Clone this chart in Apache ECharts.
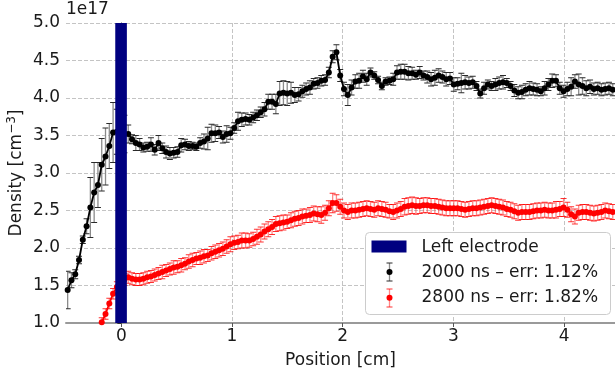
<!DOCTYPE html>
<html>
<head>
<meta charset="utf-8">
<script src="https://cdn.jsdelivr.net/npm/echarts@6/dist/echarts.min.js"></script>
<style>
  html, body { margin: 0; padding: 0; background: #fff; }
  #chart { width: 615px; height: 368px; }
</style>
</head>
<body>
<div id="chart"></div>
<script>
// sampling grid of the probe positions [cm]
const X0 = -0.485;
const DX = 0.0342;

// density at 2000 ns [1e17 cm^-3]
const density2000 = [
  1.44, 1.57, 1.65, 1.84, 2.11, 2.29, 2.54, 2.74, 2.84, 3.11,
  3.22, 3.36, 3.54, 3.55, 3.53, 3.52, 3.52, 3.45, 3.40, 3.38,
  3.34, 3.35, 3.38, 3.31, 3.40, 3.33, 3.28, 3.26, 3.27, 3.28,
  3.37, 3.38, 3.36, 3.36, 3.35, 3.40, 3.42, 3.46, 3.53, 3.53,
  3.54, 3.48, 3.52, 3.53, 3.60, 3.69, 3.71, 3.72, 3.71, 3.74,
  3.77, 3.81, 3.85, 3.95, 3.95, 3.92, 4.06, 4.07, 4.06, 4.07,
  4.04, 4.05, 4.09, 4.12, 4.14, 4.19, 4.20, 4.23, 4.24, 4.34,
  4.55, 4.61, 4.30, 4.12, 4.04, 4.14, 4.22, 4.23, 4.29, 4.25,
  4.34, 4.30, 4.24, 4.16, 4.22, 4.23, 4.25, 4.34, 4.35, 4.35,
  4.33, 4.33, 4.31, 4.34, 4.30, 4.28, 4.25, 4.27, 4.30, 4.28,
  4.25, 4.26, 4.18, 4.19, 4.20, 4.21, 4.20, 4.21, 4.16, 4.06,
  4.13, 4.18, 4.16, 4.18, 4.20, 4.21, 4.20, 4.16, 4.10, 4.07,
  4.08, 4.11, 4.13, 4.12, 4.11, 4.09, 4.13, 4.18, 4.23, 4.23,
  4.13, 4.09, 4.12, 4.15, 4.22, 4.18, 4.16, 4.13, 4.15, 4.12,
  4.13, 4.11, 4.12, 4.13, 4.11
];
const err2000 = [
  0.25, 0.10, 0.06, 0.05, 0.05, 0.10, 0.40, 0.40, 0.30, 0.35,
  0.38, 0.30, 0.40, 0.30, 0.30, 0.25, 0.12, 0.06, 0.10, 0.08,
  0.06, 0.06, 0.09, 0.07, 0.10, 0.07, 0.08, 0.08, 0.07, 0.07,
  0.09, 0.07, 0.06, 0.05, 0.05, 0.07, 0.10, 0.15, 0.12, 0.11,
  0.08, 0.08, 0.11, 0.08, 0.07, 0.12, 0.09, 0.08, 0.07, 0.07,
  0.07, 0.07, 0.09, 0.10, 0.10, 0.13, 0.16, 0.16, 0.16, 0.14,
  0.10, 0.09, 0.08, 0.08, 0.09, 0.07, 0.07, 0.07, 0.07, 0.07,
  0.08, 0.10, 0.08, 0.09, 0.14, 0.10, 0.09, 0.10, 0.08, 0.08,
  0.06, 0.05, 0.05, 0.05, 0.05, 0.05, 0.08, 0.09, 0.10, 0.10,
  0.09, 0.08, 0.06, 0.08, 0.06, 0.08, 0.09, 0.10, 0.09, 0.08,
  0.09, 0.08, 0.09, 0.08, 0.13, 0.09, 0.08, 0.08, 0.06, 0.06,
  0.08, 0.06, 0.06, 0.08, 0.08, 0.09, 0.06, 0.06, 0.08, 0.08,
  0.09, 0.08, 0.09, 0.08, 0.08, 0.06, 0.09, 0.08, 0.09, 0.08,
  0.08, 0.08, 0.09, 0.12, 0.09, 0.14, 0.11, 0.10, 0.09, 0.08,
  0.08, 0.08, 0.08, 0.08, 0.08
];

// density at 2800 ns [1e17 cm^-3]
const density2800 = [
  null, null, null, null, null, null, null, null, 0.90, 1.01,
  1.12, 1.26, 1.39, 1.48, 1.55, 1.58, 1.61, 1.59, 1.58, 1.58,
  1.59, 1.61, 1.62, 1.64, 1.66, 1.68, 1.70, 1.72, 1.74, 1.75,
  1.77, 1.79, 1.82, 1.84, 1.86, 1.87, 1.89, 1.90, 1.93, 1.95,
  1.97, 1.99, 2.02, 2.05, 2.07, 2.08, 2.10, 2.10, 2.10, 2.12,
  2.15, 2.18, 2.22, 2.25, 2.28, 2.32, 2.33, 2.34, 2.35, 2.37,
  2.39, 2.40, 2.42, 2.43, 2.44, 2.46, 2.45, 2.44, 2.47, 2.53,
  2.60, 2.60, 2.55, 2.50, 2.48, 2.50, 2.50, 2.51, 2.52, 2.53,
  2.52, 2.51, 2.53, 2.52, 2.51, 2.49, 2.48, 2.50, 2.52, 2.55,
  2.56, 2.57, 2.56, 2.56, 2.57, 2.57, 2.56, 2.56, 2.55, 2.54,
  2.53, 2.53, 2.53, 2.53, 2.52, 2.51, 2.52, 2.53, 2.53, 2.54,
  2.55, 2.56, 2.57, 2.56, 2.55, 2.54, 2.52, 2.51, 2.49, 2.47,
  2.48, 2.48, 2.48, 2.49, 2.50, 2.50, 2.51, 2.50, 2.50, 2.51,
  2.52, 2.54, 2.51, 2.45, 2.42, 2.47, 2.48, 2.48, 2.47, 2.46,
  2.47, 2.48, 2.50, 2.49, 2.48
];
const err2800 = [
  null, null, null, null, null, null, null, null, 0.06, 0.06,
  0.07, 0.07, 0.07, 0.07, 0.08, 0.08, 0.08, 0.08, 0.08, 0.08,
  0.08, 0.08, 0.08, 0.08, 0.08, 0.09, 0.08, 0.08, 0.09, 0.08,
  0.09, 0.08, 0.09, 0.09, 0.08, 0.09, 0.09, 0.08, 0.09, 0.09,
  0.09, 0.09, 0.09, 0.10, 0.09, 0.09, 0.10, 0.10, 0.09, 0.09,
  0.10, 0.10, 0.10, 0.10, 0.10, 0.10, 0.10, 0.10, 0.09, 0.10,
  0.10, 0.10, 0.10, 0.09, 0.10, 0.10, 0.10, 0.11, 0.10, 0.10,
  0.13, 0.11, 0.10, 0.10, 0.10, 0.10, 0.10, 0.10, 0.10, 0.10,
  0.10, 0.10, 0.10, 0.10, 0.10, 0.09, 0.10, 0.10, 0.10, 0.11,
  0.11, 0.11, 0.11, 0.10, 0.10, 0.10, 0.10, 0.10, 0.10, 0.10,
  0.10, 0.10, 0.10, 0.10, 0.10, 0.10, 0.10, 0.10, 0.10, 0.10,
  0.10, 0.10, 0.10, 0.10, 0.10, 0.10, 0.10, 0.10, 0.10, 0.10,
  0.10, 0.10, 0.10, 0.10, 0.10, 0.10, 0.10, 0.10, 0.10, 0.11,
  0.10, 0.12, 0.10, 0.10, 0.10, 0.10, 0.10, 0.10, 0.10, 0.10,
  0.10, 0.10, 0.10, 0.10, 0.10
];

const electrode = [-0.055, 0.05];
const xTicks = [0, 1, 2, 3, 4];
const X_MIN = -0.5, X_MAX = 4.46;
const Y_MIN = 1.0, Y_MAX = 5.0;

const FONT = '"DejaVu Sans", "Liberation Sans", sans-serif';
const FS = 17;

const positions = density2000.map((_, i) => +(X0 + i * DX).toFixed(4));
const pts = (vals) => positions.map((x, i) => [x, vals[i]]);
const errPts = (vals, errs) =>
  positions.map((x, i) => [x, vals[i], errs[i]]).filter((d) => d[1] != null);

function errorBars(lineColor, capColor) {
  return function (params, api) {
    const x = api.value(0), y = api.value(1), e = api.value(2);
    const hi = api.coord([x, y + e]);
    const lo = api.coord([x, y - e]);
    const hw = 3;
    return {
      type: "group",
      children: [
        { type: "line", shape: { x1: hi[0], y1: hi[1], x2: lo[0], y2: lo[1] }, style: { stroke: lineColor, lineWidth: 1.3 } },
        { type: "line", shape: { x1: hi[0] - hw, y1: hi[1], x2: hi[0] + hw, y2: hi[1] }, style: { stroke: capColor, lineWidth: 1 } },
        { type: "line", shape: { x1: lo[0] - hw, y1: lo[1], x2: lo[0] + hw, y2: lo[1] }, style: { stroke: capColor, lineWidth: 1 } },
      ],
    };
  };
}

const chart = echarts.init(document.getElementById("chart"));

const txt = (text, y) => ({
  type: "text", x: 56, y: y, z: 101,
  style: { text: text, font: FS + "px " + FONT, fill: "#1a1a1a", verticalAlign: "middle" },
});

const option = {
  animation: false,
  textStyle: { fontFamily: FONT },
  grid: { left: 66, right: 0, top: 23, bottom: 45, outerBoundsMode: "none", containLabel: false },
  xAxis: {
    type: "value",
    min: X_MIN,
    max: X_MAX,
    name: "Position [cm]",
    nameLocation: "middle",
    nameGap: 29,
    nameTextStyle: { fontSize: FS, color: "#1a1a1a", fontFamily: FONT },
    axisLine: { show: true, onZero: false, lineStyle: { color: "#9a9a9a", width: 2 } },
    axisTick: { show: true, customValues: xTicks, length: 4, lineStyle: { color: "#555" } },
    axisLabel: { customValues: xTicks, fontSize: FS, color: "#1a1a1a", fontFamily: FONT, margin: 5 },
    splitLine: { show: true, lineStyle: { color: "#c4c4c4", type: [4, 2], width: 1 } },
  },
  yAxis: {
    type: "value",
    min: Y_MIN,
    max: Y_MAX,
    interval: 0.5,
    name: "Density [cm{sup|−3}]",
    nameLocation: "middle",
    nameGap: 39,
    nameMoveOverlap: false,
    nameTextStyle: {
      fontSize: FS, color: "#1a1a1a", fontFamily: FONT,
      rich: { sup: { fontSize: 12, verticalAlign: "top", padding: [0, 0, 9, 0], fontFamily: FONT, color: "#1a1a1a" } },
    },
    axisLine: { show: true, lineStyle: { color: "#333", width: 1 } },
    axisTick: { show: true, length: 4, lineStyle: { color: "#333" } },
    axisLabel: { fontSize: FS, color: "#1a1a1a", fontFamily: FONT, margin: 6, formatter: (v) => v.toFixed(1) },
    splitLine: { show: true, lineStyle: { color: "#c4c4c4", type: [4, 2], width: 1 } },
  },
  series: [
    {
      type: "custom",
      name: "err2000",
      clip: true,
      z: 2,
      encode: { x: 0, y: 1 },
      renderItem: errorBars("#8a8a8a", "#2a2a2a"),
      data: errPts(density2000, err2000),
    },
    {
      type: "custom",
      name: "err2800",
      clip: true,
      z: 2,
      encode: { x: 0, y: 1 },
      renderItem: errorBars("rgba(255,70,70,0.65)", "rgba(255,0,0,0.8)"),
      data: errPts(density2800, err2800),
    },
    {
      type: "line",
      name: "2000 ns – err: 1.12%",
      z: 3,
      clip: true,
      symbol: "circle",
      symbolSize: 6,
      color: "#000",
      lineStyle: { color: "#000", width: 1.8 },
      itemStyle: { color: "#000" },
      data: pts(density2000),
    },
    {
      type: "line",
      name: "2800 ns – err: 1.82%",
      z: 3,
      clip: true,
      connectNulls: false,
      symbol: "circle",
      symbolSize: 6,
      color: "#ff0000",
      lineStyle: { color: "#ff0000", width: 1.8 },
      itemStyle: { color: "#ff0000" },
      data: pts(density2800),
    },
    {
      type: "custom",
      name: "Left electrode",
      z: 5,
      renderItem: function (params, api) {
        const a = api.coord([api.value(0), Y_MAX]);
        const b = api.coord([api.value(1), Y_MAX]);
        const cs = params.coordSys;
        return {
          type: "rect",
          shape: { x: a[0], y: cs.y, width: b[0] - a[0], height: cs.height },
          style: { fill: "#000080" },
        };
      },
      encode: { x: [0, 1] },
      data: [electrode],
    },
  ],
  graphic: [
    {
      type: "text",
      left: 66,
      top: 1,
      style: { text: "1e17", font: FS + "px " + FONT, fill: "#1a1a1a" },
    },
    {
      type: "group",
      left: 365,
      top: 232,
      z: 100,
      children: [
        { type: "rect", z: 100, shape: { x: 0, y: 0, width: 245, height: 82, r: 4 }, style: { fill: "#ffffff", stroke: "#cccccc", lineWidth: 1 } },
        { type: "rect", z: 101, shape: { x: 6, y: 8, width: 35, height: 12 }, style: { fill: "#000080" } },
        txt("Left electrode", 15),

        { type: "line", z: 101, shape: { x1: 24, y1: 30.5, x2: 24, y2: 48.5 }, style: { stroke: "#8a8a8a", lineWidth: 1.3 } },
        { type: "line", z: 101, shape: { x1: 21, y1: 30.5, x2: 27, y2: 30.5 }, style: { stroke: "#2a2a2a", lineWidth: 1 } },
        { type: "line", z: 101, shape: { x1: 21, y1: 48.5, x2: 27, y2: 48.5 }, style: { stroke: "#2a2a2a", lineWidth: 1 } },
        { type: "circle", z: 102, shape: { cx: 24, cy: 39.5, r: 3 }, style: { fill: "#000" } },
        txt("2000 ns – err: 1.12%", 40),

        { type: "line", z: 101, shape: { x1: 24, y1: 56.5, x2: 24, y2: 74.5 }, style: { stroke: "rgba(255,70,70,0.65)", lineWidth: 1.3 } },
        { type: "line", z: 101, shape: { x1: 21, y1: 56.5, x2: 27, y2: 56.5 }, style: { stroke: "rgba(255,0,0,0.8)", lineWidth: 1 } },
        { type: "line", z: 101, shape: { x1: 21, y1: 74.5, x2: 27, y2: 74.5 }, style: { stroke: "rgba(255,0,0,0.8)", lineWidth: 1 } },
        { type: "circle", z: 102, shape: { cx: 24, cy: 65.3, r: 3 }, style: { fill: "#ff0000" } },
        txt("2800 ns – err: 1.82%", 65.5),
      ],
    },
  ],
};

chart.setOption(option);
</script>
</body>
</html>
